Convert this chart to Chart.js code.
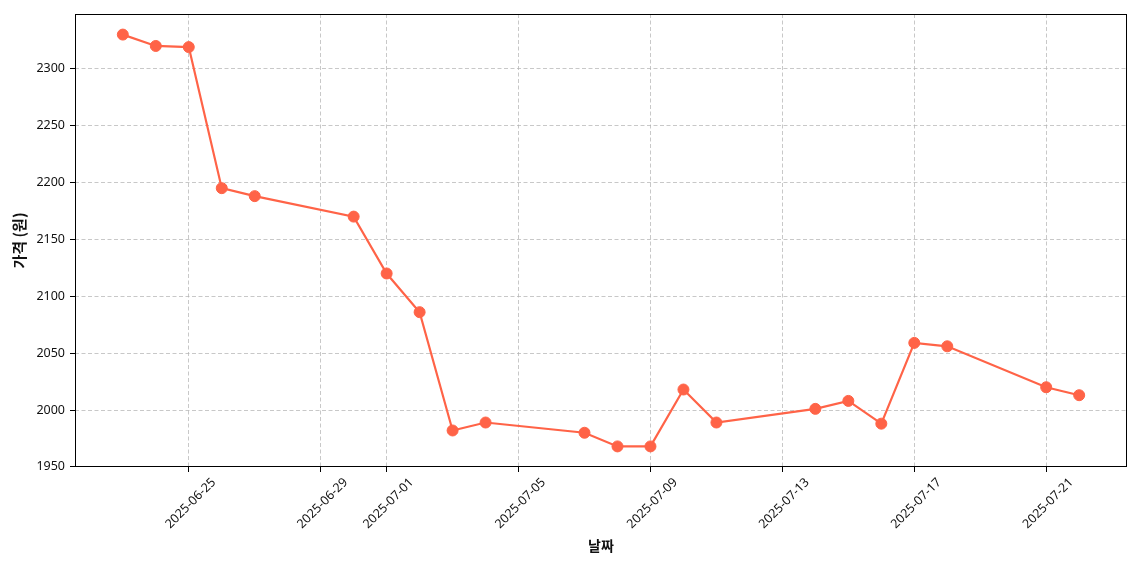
<!DOCTYPE html>
<html><head><meta charset="utf-8">
<script src="https://cdn.jsdelivr.net/npm/chart.js@4.4.1/dist/chart.umd.min.js"></script>
<style>html,body{margin:0;padding:0;background:#fff}#wrap{width:1140px;height:570px}</style>
</head><body><div id="wrap"><canvas id="c" width="1140" height="570"></canvas></div>
<script>
const dates = ['2025-06-23','2025-06-24','2025-06-25','2025-06-26','2025-06-27','2025-06-30',
  '2025-07-01','2025-07-02','2025-07-03','2025-07-04','2025-07-07','2025-07-08','2025-07-09',
  '2025-07-10','2025-07-11','2025-07-14','2025-07-15','2025-07-16','2025-07-17','2025-07-18',
  '2025-07-21','2025-07-22'];
const prices = [2330,2320,2319,2195,2188,2170,2120,2086,1982,1989,1980,1968,1968,2018,1989,
  2001,2008,1988,2059,2056,2020,2013];
const xTickLabels = ['2025-06-25','2025-06-29','2025-07-01','2025-07-05','2025-07-09','2025-07-13','2025-07-17','2025-07-21'];
const yTickValues = [1950,2000,2050,2100,2150,2200,2250,2300];
const xTitle = '날짜';
const yTitle = '가격 (원)';

const DAY = 86400000;
const base = Date.UTC(2025,5,23);
const toDay = s => { const [y,m,d] = s.split('-').map(Number); return (Date.UTC(y,m-1,d)-base)/DAY; };
const toLabel = v => { const dt = new Date(base + Math.round(v)*DAY); return dt.toISOString().slice(0,10); };

const pts = dates.map((d,i)=>({x: toDay(d), y: prices[i]}));
const xs = pts.map(p=>p.x), ys = pts.map(p=>p.y);
const xMinD = Math.min(...xs), xMaxD = Math.max(...xs), yMinD = Math.min(...ys), yMaxD = Math.max(...ys);
const xm = (xMaxD-xMinD)*0.05, ym = (yMaxD-yMinD)*0.05;

const FONT = "'Noto Sans CJK KR', 'Noto Sans', sans-serif";
const TFONT = "'Noto Sans', 'Noto Sans CJK KR', sans-serif";
const color = '#FF6347';
const gridColor = 'rgba(176,176,176,0.7)';

const frame = {
  id:'frame',
  afterDatasetsDraw(chart){
    const {ctx, chartArea:a} = chart;
    ctx.save();
    ctx.strokeStyle = '#000'; ctx.lineWidth = 1;
    ctx.strokeRect(Math.round(a.left)+0.5, Math.round(a.top)+0.5, Math.round(a.right-a.left)-1, Math.round(a.bottom-a.top)-1);
    ctx.restore();
  }
};

new Chart(document.getElementById('c'), {
  type:'line',
  data:{ datasets:[{
    data: pts,
    borderColor: color, backgroundColor: color,
    borderWidth: 2.2,
    pointRadius: 5.5, pointHoverRadius: 5.5,
    pointBackgroundColor: color, pointBorderColor: color, pointBorderWidth: 1,
    tension: 0
  }]},
  options:{
    responsive:false, animation:false, devicePixelRatio:1,
    layout:{ padding:{ left:0, top:14, right:13, bottom:0 } },
    plugins:{ legend:{display:false}, tooltip:{enabled:false} },
    scales:{
      x:{
        type:'linear', min: xMinD-xm, max: xMaxD+xm,
        afterBuildTicks: s => { s.ticks = xTickLabels.map(l=>({value: toDay(l)})); },
        afterFit: s => { s.height = 103; },
        ticks:{ callback: v => toLabel(v), minRotation:45, maxRotation:45, autoSkip:false,
          font:{family:TFONT, size:12.5}, color:'#111', padding:3, labelOffset: 25 },
        grid:{ color:gridColor, lineWidth:1, drawTicks:true,
          tickLength:5, tickColor:'#000', tickBorderDash:[], tickWidth:1 },
        border:{ display:false, dash:[4,2.5] },
        title:{ display:true, text:xTitle, font:{family:FONT, size:14, weight:'bold'}, color:'#111',
          padding:{top:4, bottom:16} }
      },
      y:{
        type:'linear', min: yMinD-ym, max: yMaxD+ym,
        afterBuildTicks: s => { s.ticks = yTickValues.map(v=>({value:v})); },
        afterFit: s => { s.width = 75; },
        ticks:{ callback: v => String(v), font:{family:TFONT, size:12.5}, color:'#111', padding:5 },
        grid:{ color:gridColor, lineWidth:1,
          tickLength:5, tickColor:'#000', tickBorderDash:[], tickWidth:1 },
        border:{ display:false, dash:[4,2.5] },
        title:{ display:true, text:yTitle, font:{family:FONT, size:15, weight:'bold'}, color:'#111',
          padding:{top:10, bottom:4} }
      }
    }
  },
  plugins:[frame]
});
</script></body></html>
